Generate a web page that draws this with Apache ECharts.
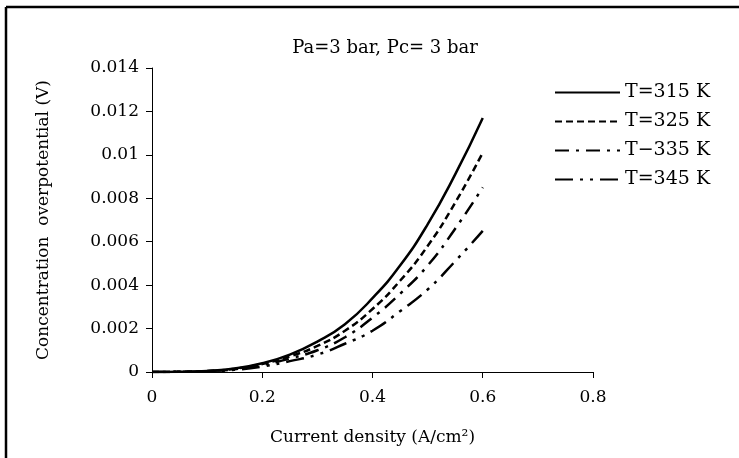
<!DOCTYPE html>
<html>
<head>
<meta charset="utf-8">
<script src="https://cdn.jsdelivr.net/npm/echarts@6/dist/echarts.min.js"></script>
<style>
  html, body { margin: 0; padding: 0; background: #fff; }
  #chart { width: 739px; height: 458px; }
</style>
</head>
<body>
<div id="chart"></div>
<script>
// current density (A/cm2)
const currentDensity = [0, 0.05, 0.1, 0.15, 0.2, 0.25, 0.3, 0.35, 0.4, 0.45, 0.5, 0.55, 0.6];
// concentration overpotential (V)
const t315 = [0, 0.00001, 0.00005, 0.00016, 0.0004, 0.0008, 0.0014, 0.0022, 0.0034, 0.0049, 0.0068, 0.0091, 0.0117];
const t325 = [0, 0.00001, 0.00005, 0.00015, 0.00037, 0.00072, 0.0012, 0.0019, 0.0029, 0.0042, 0.0058, 0.0078, 0.0101];
const t335 = [0, 0.00001, 0.00004, 0.00013, 0.00032, 0.00062, 0.001, 0.0016, 0.0025, 0.0036, 0.0049, 0.0066, 0.0085];
const t345 = [0, 0.00001, 0.00003, 0.0001, 0.00025, 0.0005, 0.0008, 0.0013, 0.0019, 0.0028, 0.0038, 0.0051, 0.0065];
const seriesNames = ['T=315 K', 'T=325 K', 'T\u2212335 K', 'T=345 K'];
const yTicks = { min: 0, max: 0.014, interval: 0.002 };
const xTicks = { min: 0, max: 0.8, interval: 0.2 };

const font = 'DejaVu Serif';
const chart = echarts.init(document.getElementById('chart'));

function pairs(ys) {
  return currentDensity.map((x, i) => [x, ys[i]]);
}

function lineSeries(name, ys, dash) {
  return {
    name: name,
    type: 'line',
    data: pairs(ys),
    smooth: true,
    symbol: 'none',
    lineStyle: { color: '#000', width: 2.5, type: dash },
    itemStyle: { color: '#000' },
  };
}

chart.setOption({
  animation: false,
  textStyle: { fontFamily: font, color: '#000' },
  title: {
    text: 'Pa=3 bar, Pc= 3 bar',
    left: 380,
    top: 34,
    textAlign: 'center',
    textStyle: { fontFamily: font, fontSize: 18, fontWeight: 'normal', color: '#000' },
  },
  legend: {
    orient: 'vertical',
    left: 549,
    top: 78,
    itemWidth: 65,
    itemHeight: 14,
    itemGap: 10,
    itemStyle: { opacity: 0 },
    textStyle: { fontFamily: font, fontSize: 19, color: '#000', padding: [0, 0, 0, 0] },
    data: seriesNames,
  },
  graphic: [
    { type: 'line', shape: { x1: 6, y1: 7, x2: 739, y2: 7 }, style: { stroke: '#000', lineWidth: 2.5 } },
    { type: 'line', shape: { x1: 6, y1: 7, x2: 6, y2: 458 }, style: { stroke: '#000', lineWidth: 2.5 } },
  ],
  grid: { left: 152, right: 146, top: 68, bottom: 86 },
  xAxis: {
    type: 'value',
    min: xTicks.min,
    max: xTicks.max,
    interval: xTicks.interval,
    name: 'Current density (A/cm\u00b2)',
    nameLocation: 'middle',
    nameGap: 57,
    nameTextStyle: { fontFamily: font, fontSize: 17, color: '#000' },
    axisLine: { lineStyle: { color: '#000', width: 1 } },
    axisTick: { inside: false, length: 6, lineStyle: { color: '#000' } },
    axisLabel: { fontFamily: font, fontSize: 17, color: '#000', margin: 17 },
    splitLine: { show: false },
  },
  yAxis: {
    type: 'value',
    min: yTicks.min,
    max: yTicks.max,
    interval: yTicks.interval,
    name: 'Concentration  overpotential (V)',
    nameLocation: 'middle',
    nameGap: 100,
    nameTextStyle: { fontFamily: font, fontSize: 17, color: '#000' },
    axisLine: { show: true, lineStyle: { color: '#000', width: 1 } },
    axisTick: { show: true, length: 6, lineStyle: { color: '#000' } },
    axisLabel: {
      fontFamily: font,
      fontSize: 17,
      color: '#000',
      margin: 13,
      formatter: v => (v === 0 ? '0' : String(+v.toFixed(3))),
    },
    splitLine: { show: false },
  },
  series: [
    lineSeries(seriesNames[0], t315, 'solid'),
    lineSeries(seriesNames[1], t325, [7, 4]),
    lineSeries(seriesNames[2], t335, [14, 7, 3, 7]),
    lineSeries(seriesNames[3], t345, [18, 7, 3, 7, 3, 7]),
  ],
});
</script>
</body>
</html>
